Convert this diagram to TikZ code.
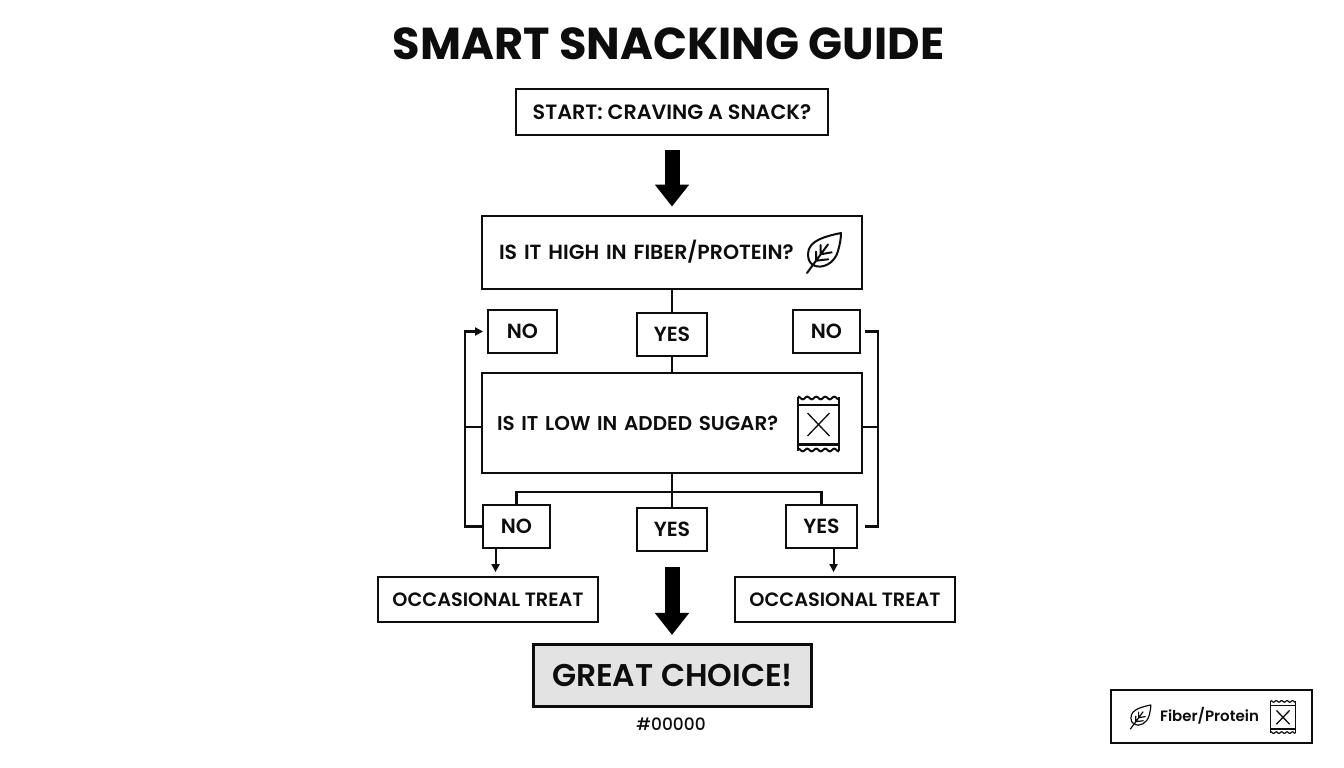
\documentclass[tikz,border=0pt]{standalone}
\usepackage{fontspec}
\setmainfont{Poppins}[BoldFont={Poppins SemiBold}]
\newfontfamily\heavy{Poppins Bold}
\newfontfamily\med{Poppins Medium}
\usetikzlibrary{arrows.meta}
\definecolor{ink}{HTML}{0D0D0D}
\tikzset{
  x=1pt,y=-1pt,
  every node/.style={text=ink},
  sized/.style={font=\bfseries\fontsize{#1}{#1}\selectfont,text height=0.7*#1 pt,text depth=0pt},
  box/.style={draw=ink,line width=1.9pt,fill=white,inner xsep=0pt,inner ysep=0pt,sized=20.5,align=center},
  tagbox/.style={box,minimum width=#1,minimum height=43},
  wire/.style={draw=ink,line width=2.4pt},
  bigarrow/.style={draw=black,line width=15pt,-{Triangle[width=33pt,length=22pt]}},
  smallarrow/.style={draw=ink,line width=2pt,-{Triangle[width=8pt,length=8pt]}},
  leaf/.pic={
    \draw[ink,line width=\pgfkeysvalueof{/tikz/iconlw},line join=round,line cap=round]
      (18,-20) .. controls (4,-17) and (-15,-13) .. (-15,1)
      .. controls (-15,7) and (-13,10) .. (-10,12)
      .. controls (-1,17) and (12,10) .. (15,-2)
      .. controls (17,-9) and (18,-15) .. (18,-20) -- cycle
      (-16,20) -- (5,-8.6)
      (-7,7.7) -- (-7,-1.3)
      (-2.3,1.3) -- (-2.3,-8)
      (-7,7.7) -- (5.3,6.3)
      (-2.3,1.3) -- (8.7,-0.7);
  },
  packet/.pic={
    \draw[ink,line width=\pgfkeysvalueof{/tikz/iconlw}]
      (-20.5,-27) -- (-20.5,27) (20.5,-27) -- (20.5,27)
      (-20.5,-19) -- (20.5,-19) (-20.5,19.5) -- (20.5,19.5) (-20.5,21) -- (20.5,21);
    \draw[ink,line width=1.3pt]
      (-11,-11) -- (11,12) (11,-11) -- (-11,12);
    \draw[ink,line width=\pgfkeysvalueof{/tikz/iconlw}]
      plot[domain=-20.5:20.5,samples=70] (\x,{-26+1.3*sin(\x*40)})
      plot[domain=-20.5:20.5,samples=70] (\x,{26+1.3*sin(\x*40)});
  },
  iconlw/.initial=2pt
}
\begin{document}
\begin{tikzpicture}
\useasboundingbox[fill=white] (0,0) rectangle (1344,768);
\node[font=\heavy\fontsize{44.7}{50}\selectfont,text height=31.3pt,text depth=0pt,inner sep=0pt] (title) at (668.5,44) {SMART SNACKING GUIDE};

\node[box,minimum width=312,minimum height=46,sized=20.7] (start) at (672,112) {START: CRAVING A SNACK?};

\node[box,minimum width=380,minimum height=73,text width=346,align=left,inner xsep=17pt] (q1) at (672,252.5) {IS IT HIGH IN FIBER/PROTEIN?};
\node[box,minimum width=380,minimum height=100,text width=350,align=left,inner xsep=15pt,sized=20] (q2) at (672,423) {IS IT LOW IN ADDED SUGAR?};

\node[tagbox=69] (no1) at (522.5,331.5) {NO};
\node[tagbox=70] (yes1) at (672,334.5) {YES};
\node[tagbox=67] (no2) at (826.5,331.5) {NO};
\node[tagbox=67] (no3) at (516.5,526.5) {NO};
\node[tagbox=70] (yes2) at (672,529.5) {YES};
\node[tagbox=71] (yes3) at (821.5,526.5) {YES};

\node[box,minimum width=220,minimum height=45,sized=19.3] (tl) at (488,599.5) {OCCASIONAL TREAT};
\node[box,minimum width=220,minimum height=45,sized=19.3] (tr) at (845,599.5) {OCCASIONAL TREAT};

\node[box,minimum width=278,minimum height=62,line width=3.2pt,fill=black!11,sized=31.4] (great) at (672.5,675.5) {GREAT CHOICE!};
\node[font=\med\fontsize{17}{20}\selectfont,text height=11.9pt,text depth=0pt,inner sep=0pt] (code) at (671,724.5) {\#00000};

\node[box,minimum width=201,minimum height=53,line width=1.5pt] (legend) at (1211.5,716.5) {};
\node[sized=15,inner sep=0pt] (legendtext) at (1209.5,716.5) {Fiber/Protein};

\pic at (823,253) {leaf};
\pic at (818.5,424) {packet};
\begin{scope}[iconlw=1.2pt]
\pic[scale=0.6] at (1140,717) {leaf};
\pic[scale=0.6] at (1283,717) {packet};
\end{scope}

\draw[bigarrow,shorten <=14.5pt,shorten >=8.5pt] (start.south) -- (q1.north);
\draw[bigarrow,shorten <=15.5pt,shorten >=8pt] (yes2.south) -- (yes2.south |- great.north);

\draw[wire] (q1.south) -- (yes1.north);
\draw[wire] (yes1.south) -- (q2.north);
\draw[wire] (q2.south) -- (yes2.north);
\coordinate (busL) at (516.5,492);
\coordinate (busR) at (821.5,492);
\draw[wire,line width=2.8pt] (no3.north) -- (busL) -- (busR) -- (yes3.north);

\coordinate (railL) at (465,427);
\coordinate (railR) at (878,427);
\draw[wire,-{Triangle[width=8pt,length=8pt]},shorten >=4pt] (no3.west) -- (no3.west -| railL) -- (no1.west -| railL) -- (no1.west);
\draw[wire] (q2.west |- railL) -- (railL);
\draw[wire,shorten <=4pt,shorten >=7pt] (no2.east) -- (no2.east -| railR) -- (yes3.east -| railR) -- (yes3.east);
\draw[wire] (q2.east |- railR) -- (railR);

\draw[smallarrow,shorten >=4pt] ([xshift=13.5pt]no3.south west) -- ([xshift=13.5pt]no3.south west |- tl.north);
\draw[smallarrow,shorten >=4pt] ([xshift=48.5pt]yes3.south west) -- ([xshift=48.5pt]yes3.south west |- tr.north);
\end{tikzpicture}
\end{document}
